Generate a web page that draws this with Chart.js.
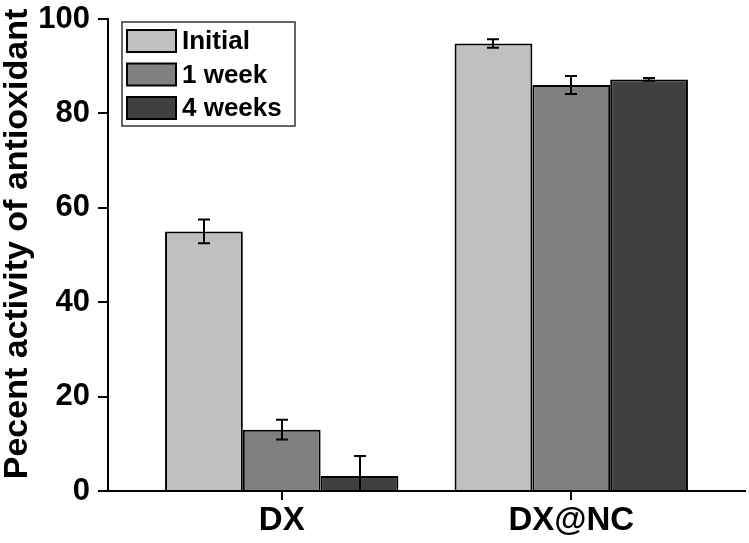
<!DOCTYPE html>
<html>
<head>
<meta charset="utf-8">
<script src="https://cdn.jsdelivr.net/npm/chart.js@4"></script>
<style>
  html, body { margin: 0; padding: 0; background: #fff; }
  #wrap { width: 749px; height: 543px; }
</style>
</head>
<body>
<div id="wrap"><canvas id="chart" width="749" height="543"></canvas></div>
<script>
// 데이터
const groups = ['DX', 'DX@NC'];
const seriesNames = ['Initial', '1 week', '4 weeks'];
const initialVals = [55.0, 94.8];
const week1Vals = [13.0, 86.0];
const week4Vals = [3.2, 87.2];
const initialErr = [2.5, 0.9];
const week1Err = [2.1, 1.9];
const week4Err = [4.2, 0.3];
const yTicks = [0, 20, 40, 60, 80, 100];
const yTitle = 'Pecent activity of antioxidant';

const fills = ['#c0c0c0', '#808080', '#404040'];
const FONT = '"Liberation Sans", Arial, sans-serif';

function toPoints(vals) {
    return vals.map((v, i) => ({ x: i, y: v }));
}

const datasets = [initialVals, week1Vals, week4Vals].map((vals, i) => ({
    label: seriesNames[i],
    data: toPoints(vals),
    backgroundColor: fills[i],
    borderColor: '#000',
    borderWidth: 2,
    errors: [initialErr, week1Err, week4Err][i]
}));

// 오차 막대
const errorBars = {
    id: 'errorBars',
    afterDatasetsDraw(chart) {
        const ctx = chart.ctx;
        const y = chart.scales.y;
        ctx.save();
        ctx.beginPath();
        ctx.rect(chart.chartArea.left, chart.chartArea.top - 10, chart.chartArea.width, chart.chartArea.height + 10);
        ctx.clip();
        ctx.strokeStyle = '#000';
        ctx.lineWidth = 2;
        chart.data.datasets.forEach((ds, di) => {
            const meta = chart.getDatasetMeta(di);
            meta.data.forEach((bar, i) => {
                const v = ds.data[i].y, e = ds.errors[i];
                const top = y.getPixelForValue(v + e);
                const bot = y.getPixelForValue(v - e);
                const cx = Math.round(bar.x);
                ctx.beginPath();
                ctx.moveTo(cx, top); ctx.lineTo(cx, bot);
                ctx.moveTo(cx - 6, top); ctx.lineTo(cx + 6, top);
                ctx.moveTo(cx - 6, bot); ctx.lineTo(cx + 6, bot);
                ctx.stroke();
            });
        });
        ctx.restore();
    }
};

// 범례 (차트 안 상자) + y축 제목
const boxLegend = {
    id: 'boxLegend',
    afterDraw(chart) {
        const ctx = chart.ctx;
        ctx.save();
        ctx.strokeStyle = '#333';
        ctx.lineWidth = 1.5;
        ctx.strokeRect(122, 22, 173, 104);
        ctx.font = 'bold 26px ' + FONT;
        ctx.textBaseline = 'middle';
        chart.data.datasets.forEach((ds, i) => {
            const cy = 41 + i * 33.5;
            ctx.fillStyle = ds.backgroundColor;
            ctx.fillRect(127, cy - 11, 49, 22);
            ctx.strokeStyle = '#000';
            ctx.lineWidth = 2;
            ctx.strokeRect(127, cy - 11, 49, 22);
            ctx.fillStyle = '#000';
            ctx.fillText(ds.label, 182, cy + 1);
        });
        // y축 제목
        ctx.translate(18, 244);
        ctx.rotate(-Math.PI / 2);
        ctx.font = 'bold 34px ' + FONT;
        ctx.textAlign = 'center';
        ctx.textBaseline = 'middle';
        ctx.fillStyle = '#000';
        ctx.fillText(yTitle, 0, 0);
        ctx.restore();
    }
};

new Chart(document.getElementById('chart'), {
    type: 'bar',
    data: { datasets: datasets },
    plugins: [errorBars, boxLegend],
    options: {
        responsive: false,
        animation: false,
        categoryPercentage: 0.806,
        barPercentage: 1.0,
        layout: { padding: { top: 19, right: 4, left: 0, bottom: 0 } },
        plugins: {
            legend: { display: false },
            tooltip: { enabled: false }
        },
        scales: {
            x: {
                type: 'linear',
                min: -0.6,
                max: 1.6,
                offset: false,
                afterBuildTicks: (scale) => { scale.ticks = groups.map((g, i) => ({ value: i })); },
                afterFit: (scale) => { scale.height = 52; scale.paddingLeft = 0; scale.paddingRight = 0; },
                ticks: {
                    callback: (v) => groups[v] || '',
                    color: '#000',
                    font: { family: FONT, size: 33, weight: 'bold' },
                    padding: 1,
                    maxRotation: 0
                },
                grid: { offset: false, drawOnChartArea: false, tickLength: 9, color: '#000', lineWidth: 2 },
                border: { color: '#000', width: 2 }
            },
            y: {
                min: 0,
                max: 100,
                afterBuildTicks: (scale) => { scale.ticks = yTicks.map(v => ({ value: v })); },
                afterFit: (scale) => { scale.width = 108; scale.paddingTop = 0; scale.paddingBottom = 0; },
                ticks: {
                    color: '#000',
                    font: { family: FONT, size: 31, weight: 'bold' },
                    padding: 8
                },
                grid: { drawOnChartArea: false, tickLength: 10, color: '#000', lineWidth: 2 },
                border: { color: '#000', width: 2 }
            }
        }
    }
});
</script>
</body>
</html>
